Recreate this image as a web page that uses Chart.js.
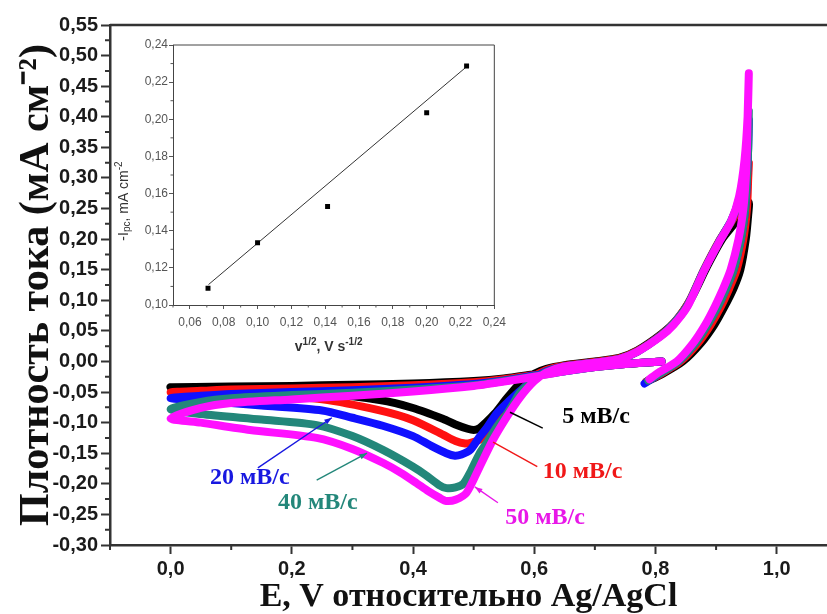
<!DOCTYPE html>
<html>
<head>
<meta charset="utf-8">
<script src="https://cdn.jsdelivr.net/npm/chart.js@4.4.1/dist/chart.umd.min.js"></script>
<style>
  html, body { margin: 0; padding: 0; background: #fff; }
  #wrap { position: relative; width: 827px; height: 614px; overflow: hidden; }
  #main { position: absolute; left: 0; top: 0; }
  #inset { position: absolute; left: 112px; top: 30px; }
</style>
</head>
<body>
<div id="wrap">
  <canvas id="main" width="827" height="614"></canvas>
  <canvas id="inset" width="400" height="330"></canvas>
</div>
<script>
// Cyclic voltammograms, potential E (V vs Ag/AgCl) and current density j (mA cm^-2),
// one loop per scan rate: start 0.785 V -> 0.95 V -> 0 V -> 0.81 V.
const e5  = [0.785,0.812,0.845,0.875,0.897,0.914,0.929,0.940,0.949,0.953,0.954,
             0.945,0.930,0.910,0.885,0.860,0.835,0.810,0.770,0.740,0.700,0.650,0.620,0.600,0.577,0.555,0.535,0.520,0.508,0.500,0.490,0.470,0.450,0.400,0.345,0.250,0.150,0.050,0.000,
             0.100,0.200,0.300,0.400,0.500,0.550,0.600,0.650,0.700,0.750,0.810];
const j5  = [-0.033,-0.020,0.000,0.030,0.060,0.090,0.120,0.150,0.200,0.240,0.260,
             0.245,0.225,0.200,0.155,0.105,0.068,0.045,0.018,0.006,0.000,-0.006,-0.012,-0.020,-0.035,-0.060,-0.085,-0.100,-0.110,-0.112,-0.110,-0.103,-0.094,-0.076,-0.063,-0.052,-0.047,-0.044,-0.042,
             -0.041,-0.040,-0.038,-0.036,-0.032,-0.028,-0.021,-0.014,-0.008,-0.004,0.000];

const e10 = [0.785,0.809,0.841,0.870,0.891,0.908,0.922,0.934,0.945,0.951,0.953,0.954,
             0.950,0.940,0.925,0.905,0.880,0.855,0.832,0.810,0.770,0.740,0.700,0.650,0.620,0.600,0.577,0.555,0.540,0.527,0.510,0.495,0.486,0.470,0.450,0.400,0.345,0.250,0.150,0.050,0.000,
             0.050,0.100,0.200,0.300,0.400,0.500,0.550,0.600,0.650,0.700,0.750,0.810];
const j10 = [-0.033,-0.020,0.000,0.030,0.060,0.090,0.120,0.150,0.200,0.250,0.300,0.325,
             0.290,0.255,0.228,0.197,0.150,0.097,0.065,0.044,0.017,0.005,-0.001,-0.007,-0.014,-0.025,-0.050,-0.080,-0.102,-0.117,-0.128,-0.133,-0.134,-0.130,-0.120,-0.096,-0.080,-0.062,-0.055,-0.052,-0.050,
             -0.048,-0.046,-0.044,-0.042,-0.039,-0.034,-0.029,-0.022,-0.015,-0.009,-0.004,0.000];

const e20 = [0.782,0.807,0.838,0.866,0.886,0.903,0.917,0.929,0.941,0.948,0.951,0.953,0.954,
             0.951,0.946,0.937,0.925,0.905,0.880,0.853,0.830,0.810,0.770,0.740,0.700,0.650,0.620,0.600,0.577,0.555,0.538,0.522,0.510,0.494,0.480,0.469,0.455,0.430,0.400,0.350,0.300,0.250,0.150,0.050,0.000,
             0.050,0.100,0.200,0.300,0.400,0.500,0.550,0.600,0.650,0.700,0.750,0.810];
const j20 = [-0.036,-0.020,0.000,0.030,0.060,0.090,0.120,0.150,0.200,0.250,0.300,0.350,0.395,
             0.350,0.300,0.260,0.230,0.196,0.149,0.092,0.062,0.043,0.016,0.004,-0.002,-0.008,-0.016,-0.028,-0.048,-0.068,-0.085,-0.108,-0.123,-0.145,-0.152,-0.154,-0.150,-0.138,-0.122,-0.105,-0.092,-0.080,-0.072,-0.064,-0.060,
             -0.056,-0.053,-0.050,-0.047,-0.043,-0.037,-0.031,-0.023,-0.016,-0.009,-0.004,0.000];

const e40 = [0.788,0.807,0.838,0.866,0.886,0.903,0.917,0.929,0.941,0.948,0.951,0.953,0.954,
             0.952,0.947,0.938,0.925,0.905,0.880,0.853,0.830,0.810,0.770,0.740,0.700,0.650,0.620,0.600,0.577,0.566,0.552,0.538,0.525,0.510,0.495,0.483,0.470,0.455,0.443,0.420,0.400,0.351,0.300,0.241,0.150,0.050,0.000,
             0.050,0.100,0.200,0.300,0.400,0.500,0.550,0.600,0.650,0.700,0.750,0.810];
const j40 = [-0.031,-0.020,0.000,0.030,0.060,0.090,0.120,0.150,0.200,0.250,0.300,0.350,0.410,
             0.360,0.310,0.265,0.230,0.196,0.149,0.092,0.062,0.043,0.016,0.004,-0.002,-0.008,-0.017,-0.030,-0.050,-0.068,-0.090,-0.107,-0.128,-0.150,-0.180,-0.200,-0.206,-0.207,-0.202,-0.185,-0.172,-0.145,-0.122,-0.104,-0.095,-0.086,-0.078,
             -0.066,-0.060,-0.055,-0.051,-0.046,-0.039,-0.032,-0.024,-0.016,-0.009,-0.004,0.000];

const e50 = [0.790,0.805,0.835,0.862,0.882,0.898,0.912,0.924,0.937,0.945,0.949,0.951,0.952,0.954,
             0.952,0.947,0.938,0.925,0.905,0.880,0.853,0.830,0.810,0.770,0.740,0.700,0.650,0.620,0.600,0.577,0.555,0.532,0.510,0.488,0.470,0.455,0.444,0.425,0.406,0.380,0.351,0.300,0.241,0.131,0.050,0.000,
             0.050,0.100,0.200,0.300,0.400,0.500,0.550,0.600,0.650,0.700,0.750,0.810];
const j50 = [-0.029,-0.018,0.000,0.030,0.060,0.090,0.120,0.150,0.200,0.250,0.300,0.350,0.400,0.471,
             0.400,0.330,0.270,0.230,0.195,0.148,0.090,0.060,0.042,0.016,0.004,-0.002,-0.008,-0.018,-0.032,-0.058,-0.090,-0.128,-0.172,-0.215,-0.226,-0.228,-0.223,-0.212,-0.199,-0.182,-0.166,-0.143,-0.125,-0.112,-0.100,-0.093,
             -0.076,-0.068,-0.062,-0.056,-0.049,-0.040,-0.033,-0.025,-0.016,-0.009,-0.004,0.000];

const rateNames = ['5 мВ/с', '10 мВ/с', '20 мВ/с', '40 мВ/с', '50 мВ/с'];

// Main axis ticks
const xMajor = [0.0, 0.2, 0.4, 0.6, 0.8, 1.0];
const xMinor = [-0.1, 0.1, 0.3, 0.5, 0.7, 0.9];
const yMajor = [-0.30,-0.25,-0.20,-0.15,-0.10,-0.05,0.00,0.05,0.10,0.15,0.20,0.25,0.30,0.35,0.40,0.45,0.50,0.55];
const yMinor = [-0.275,-0.225,-0.175,-0.125,-0.075,-0.025,0.025,0.075,0.125,0.175,0.225,0.275,0.325,0.375,0.425,0.475,0.525];

// Inset: cathodic peak current vs square root of scan rate
const sqrtRate = [0.0707, 0.1000, 0.1414, 0.2000, 0.2236];
const peakCurrent = [0.109, 0.1335, 0.153, 0.2035, 0.2287];
const fitV = [0.071, 0.2245];
const fitI = [0.111, 0.229];
const insetXMajor = [0.06,0.08,0.10,0.12,0.14,0.16,0.18,0.20,0.22,0.24];
const insetXMinor = [0.05,0.07,0.09,0.11,0.13,0.15,0.17,0.19,0.21,0.23];
const insetYMajor = [0.10,0.12,0.14,0.16,0.18,0.20,0.22,0.24];
const insetYMinor = [0.11,0.13,0.15,0.17,0.19,0.21,0.23];

const zip = (xs, ys) => xs.map((v, i) => ({ x: v, y: ys[i] }));
const comma = (v, d) => v.toFixed(d).replace('.', ',');

const curves = [
  { e: e5,  j: j5,  color: '#000000', order: 5 },
  { e: e10, j: j10, color: '#ff1010', order: 4 },
  { e: e20, j: j20, color: '#1010ff', order: 3 },
  { e: e40, j: j40, color: '#23877a', order: 2 },
  { e: e50, j: j50, color: '#ff10ff', order: 1 }
];

const minorTicks = {
  id: 'minorTicks',
  afterDraw(chart, args, o) {
    const { ctx, chartArea: a, scales } = chart;
    ctx.save();
    ctx.strokeStyle = o.color;
    ctx.lineWidth = o.width;
    ctx.beginPath();
    (o.x || []).forEach(v => {
      const p = scales.x.getPixelForValue(v);
      ctx.moveTo(p, a.bottom); ctx.lineTo(p, a.bottom + o.length);
    });
    (o.y || []).forEach(v => {
      const p = scales.y.getPixelForValue(v);
      ctx.moveTo(a.left, p); ctx.lineTo(a.left - o.length, p);
    });
    ctx.stroke();
    ctx.restore();
  }
};

const frame = {
  id: 'frame',
  afterDraw(chart, args, o) {
    const { ctx, chartArea: a } = chart;
    ctx.save();
    ctx.strokeStyle = o.color;
    ctx.lineWidth = o.width;
    ctx.beginPath();
    if (o.sides.includes('top')) { ctx.moveTo(a.left, a.top); ctx.lineTo(a.right, a.top); }
    if (o.sides.includes('right')) { ctx.moveTo(a.right, a.top); ctx.lineTo(a.right, a.bottom); }
    ctx.stroke();
    ctx.restore();
  }
};

// Rate labels with leader arrows, anchored in data units
const callouts = {
  id: 'callouts',
  afterDatasetsDraw(chart, args, o) {
    const { ctx, scales: { x, y } } = chart;
    o.items.forEach(c => {
      const x1 = x.getPixelForValue(c.from[0]), y1 = y.getPixelForValue(c.from[1]);
      const x2 = x.getPixelForValue(c.to[0]), y2 = y.getPixelForValue(c.to[1]);
      ctx.save();
      ctx.strokeStyle = c.color;
      ctx.fillStyle = c.color;
      ctx.lineWidth = 1.4;
      ctx.beginPath(); ctx.moveTo(x1, y1); ctx.lineTo(x2, y2); ctx.stroke();
      if (c.head) {
        const ang = Math.atan2(y2 - y1, x2 - x1), L = 8;
        ctx.beginPath();
        ctx.moveTo(x2, y2);
        ctx.lineTo(x2 - L * Math.cos(ang - 0.35), y2 - L * Math.sin(ang - 0.35));
        ctx.lineTo(x2 - L * Math.cos(ang + 0.35), y2 - L * Math.sin(ang + 0.35));
        ctx.closePath(); ctx.fill();
      }
      ctx.font = o.font;
      ctx.textBaseline = 'middle';
      ctx.textAlign = 'left';
      ctx.fillText(c.text, x.getPixelForValue(c.at[0]), y.getPixelForValue(c.at[1]));
      ctx.restore();
    });
  }
};

new Chart(document.getElementById('main'), {
  type: 'scatter',
  data: {
    datasets: curves.map((c, i) => ({
      label: rateNames[i],
      data: zip(c.e, c.j),
      showLine: true,
      borderColor: c.color,
      backgroundColor: c.color,
      borderWidth: 8,
      pointRadius: 0,
      tension: 0.25,
      borderCapStyle: 'round',
      borderJoinStyle: 'round',
      order: c.order
    }))
  },
  options: {
    responsive: false,
    animation: false,
    devicePixelRatio: 1,
    layout: { padding: { top: 25, right: 0, bottom: 0, left: 0 } },
    plugins: {
      legend: { display: false },
      tooltip: { enabled: false },
      minorTicks: { x: xMinor, y: yMinor, length: 5, width: 2, color: '#333' },
      frame: { sides: ['top'], color: '#333', width: 2.5 },
      callouts: {
        font: 'bold 24px "Liberation Serif", serif',
        items: [
          { text: rateNames[0], color: '#000000', at: [0.646, -0.091], from: [0.614, -0.109], to: [0.560, -0.083], head: false },
          { text: rateNames[1], color: '#f01818', at: [0.614, -0.181], from: [0.605, -0.172], to: [0.532, -0.132], head: false },
          { text: rateNames[2], color: '#1818e0', at: [0.065, -0.190], from: [0.144, -0.174], to: [0.266, -0.092], head: true },
          { text: rateNames[3], color: '#23877a', at: [0.177, -0.231], from: [0.241, -0.194], to: [0.324, -0.150], head: true },
          { text: rateNames[4], color: '#e818e8', at: [0.552, -0.256], from: [0.540, -0.231], to: [0.502, -0.205], head: true }
        ]
      }
    },
    scales: {
      x: {
        type: 'linear',
        min: -0.1,
        max: 1.083,
        afterBuildTicks: s => { s.ticks = xMajor.map(v => ({ value: v })); },
        afterFit: s => { s.height = 69; },
        ticks: { color: '#1a1a1a', font: { family: '"Liberation Sans", Arial, sans-serif', size: 20, weight: 'bold' }, padding: 3, maxRotation: 0, callback: v => comma(v, 1) },
        grid: { drawOnChartArea: false, drawTicks: true, tickLength: 9, tickWidth: 2, tickColor: '#333' },
        border: { display: true, color: '#333', width: 2.5 },
        title: { display: true, text: 'E, V относительно Ag/AgCl', color: '#111', font: { family: '"Liberation Serif", "Times New Roman", serif', size: 34, weight: 'bold', lineHeight: 1 }, padding: { top: 0, bottom: 0 } }
      },
      y: {
        type: 'linear',
        min: -0.30,
        max: 0.55,
        afterBuildTicks: s => { s.ticks = yMajor.map(v => ({ value: v })); },
        afterFit: s => { s.width = 110; },
        ticks: { color: '#1a1a1a', font: { family: '"Liberation Sans", Arial, sans-serif', size: 20, weight: 'bold' }, padding: 3, callback: v => comma(v, 2) },
        grid: { drawOnChartArea: false, drawTicks: true, tickLength: 9, tickWidth: 2, tickColor: '#333' },
        border: { display: true, color: '#333', width: 2.5 },
        title: { display: true, text: 'Плотность тока (мА см⁻²)', color: '#111', font: { family: '"Liberation Serif", "Times New Roman", serif', size: 42, weight: 'bold', lineHeight: 1.2 }, padding: { top: 12, bottom: 0 } }
      }
    }
  },
  plugins: [minorTicks, frame, callouts]
});

// Inset axis titles with sub/superscripts
function drawRich(ctx, parts, base, small) {
  let total = 0;
  parts.forEach(p => { ctx.font = p[1] ? small : base; total += ctx.measureText(p[0]).width; });
  let x = -total / 2;
  parts.forEach(p => {
    ctx.font = p[1] ? small : base;
    const dy = p[1] > 0 ? -5 : (p[1] < 0 ? 3 : 0);
    ctx.fillText(p[0], x, dy);
    x += ctx.measureText(p[0]).width;
  });
}

const insetTitles = {
  id: 'insetTitles',
  afterDraw(chart, args, o) {
    const { ctx, chartArea: a } = chart;
    ctx.save();
    ctx.fillStyle = '#333';
    ctx.textBaseline = 'middle';
    ctx.textAlign = 'left';
    ctx.save();
    ctx.translate(a.left - 49, (a.top + a.bottom) / 2 + 26);
    ctx.rotate(-Math.PI / 2);
    drawRich(ctx, [['-I', 0], ['pc', -1], [', mA cm', 0], ['-2', 1]], '14px "Liberation Sans", Arial, sans-serif', '10px "Liberation Sans", Arial, sans-serif');
    ctx.restore();
    ctx.save();
    ctx.translate((a.left + a.right) / 2 - 5, a.bottom + 42);
    drawRich(ctx, [['v', 0], ['1/2', 1], [', V s', 0], ['-1/2', 1]], 'bold 14px "Liberation Sans", Arial, sans-serif', 'bold 10px "Liberation Sans", Arial, sans-serif');
    ctx.restore();
    ctx.restore();
  }
};

new Chart(document.getElementById('inset'), {
  type: 'scatter',
  data: {
    datasets: [
      { data: zip(sqrtRate, peakCurrent), pointStyle: 'rect', pointRadius: 3.5, backgroundColor: '#000', borderColor: '#000', borderWidth: 0, showLine: false, order: 0 },
      { data: zip(fitV, fitI), showLine: true, borderColor: '#333', borderWidth: 1, pointRadius: 0, order: 1 }
    ]
  },
  options: {
    responsive: false,
    animation: false,
    devicePixelRatio: 1,
    layout: { padding: { top: 15, right: 12, bottom: 0, left: 0 } },
    plugins: {
      legend: { display: false },
      tooltip: { enabled: false },
      minorTicks: { x: insetXMinor, y: insetYMinor, length: 2.5, width: 1, color: '#555' },
      frame: { sides: ['top', 'right'], color: '#444', width: 1 }
    },
    scales: {
      x: {
        type: 'linear', min: 0.05, max: 0.24,
        afterBuildTicks: s => { s.ticks = insetXMajor.map(v => ({ value: v })); },
        afterFit: s => { s.height = 55; },
        ticks: { color: '#555', font: { family: '"Liberation Sans", Arial, sans-serif', size: 12 }, padding: 6, maxRotation: 0, autoSkip: false, callback: v => comma(v, 2) },
        grid: { drawOnChartArea: false, tickLength: 4, tickWidth: 1, tickColor: '#555' },
        border: { color: '#444', width: 1 }
      },
      y: {
        type: 'linear', min: 0.10, max: 0.24,
        afterBuildTicks: s => { s.ticks = insetYMajor.map(v => ({ value: v })); },
        afterFit: s => { s.width = 61; },
        ticks: { color: '#555', font: { family: '"Liberation Sans", Arial, sans-serif', size: 12 }, padding: 1, autoSkip: false, callback: v => comma(v, 2) },
        grid: { drawOnChartArea: false, tickLength: 4, tickWidth: 1, tickColor: '#555' },
        border: { color: '#444', width: 1 }
      }
    }
  },
  plugins: [minorTicks, frame, insetTitles]
});
</script>
</body>
</html>
